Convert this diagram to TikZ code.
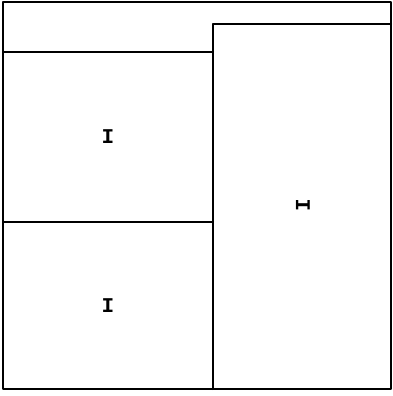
\documentclass[tikz,border=0pt]{standalone}
\usepackage{fontspec}
\newfontfamily\monofont{Liberation Mono}
\tikzset{
  frame/.style={line width=2pt, line cap=round, line join=round},
  lbl/.style={font=\monofont\bfseries\fontsize{21}{21}\selectfont, inner sep=0pt}
}
\begin{document}
\begin{tikzpicture}[x=1pt,y=-1pt]
\useasboundingbox (0,0) rectangle (392,396);
% outer frame
\draw[frame] (3,2.5) rectangle (391,389);
% top strip bottom (left)
\draw[frame] (3,52) -- (213,52);
% right box
\draw[frame] (213,52) -- (213,24.5) -- (391,24.5);
\draw[frame] (213,24.5) -- (213,389);
% left divider
\draw[frame] (3,222) -- (213,222);
% labels
\node[lbl] (a) at (108,137) {I};
\node[lbl] (b) at (108,306) {I};
\node[lbl, rotate=90] (c) at (303,205) {I};
\end{tikzpicture}
\end{document}
